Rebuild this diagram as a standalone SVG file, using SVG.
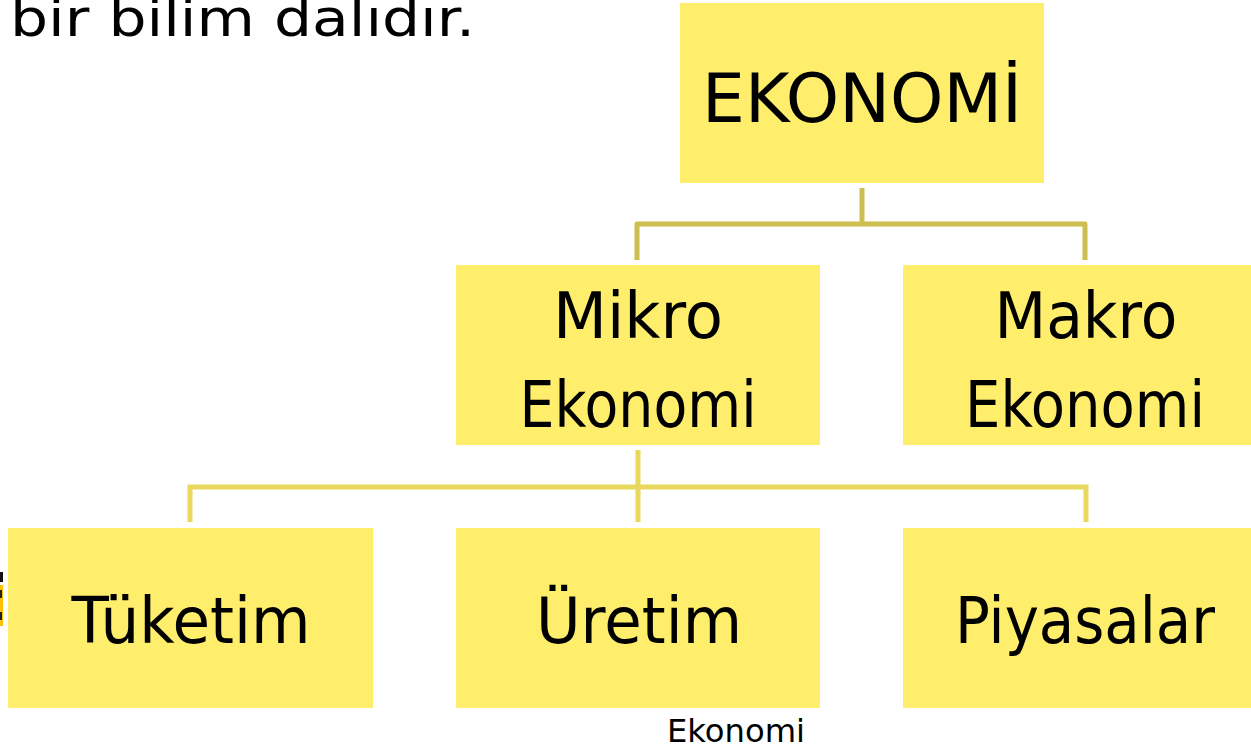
<svg xmlns="http://www.w3.org/2000/svg" width="1251" height="748" viewBox="0 0 1251 748">
  <style>
    .box { fill: #FFEE6B; }
    .lbl { font-family: "DejaVu Sans", "Liberation Sans", sans-serif; fill: #000; text-anchor: middle; }
    .big { font-size: 64px; }
    .top { font-size: 68px; }
    .con1 { fill: none; stroke: #CCBE50; stroke-width: 5; stroke-linejoin: round; stroke-linecap: butt; }
    .con2 { fill: none; stroke: #E8D85C; stroke-width: 5; stroke-linejoin: miter; }
  </style>

  <rect width="1251" height="748" fill="#fff"/>

  <!-- heading fragment, running off the top edge -->
  <text x="10" y="36" font-family="DejaVu Sans, sans-serif" font-size="52" textLength="465" lengthAdjust="spacingAndGlyphs">bir bilim dalıdır.</text>

  <!-- clipped marker at left edge -->
  <g id="edge-mark">
    <rect x="0" y="572" width="3" height="10" fill="#111"/>
    <rect x="0" y="585" width="3" height="41" fill="#FFC000"/>
    <rect x="0" y="590" width="2" height="8" fill="#222"/>
    <rect x="0" y="612" width="2" height="8" fill="#222"/>
  </g>

  <!-- connectors -->
  <g id="connectors">
    <path class="con1" d="M862 188 V224 M637 260 V224 H1085 V260"/>
    <path class="con2" d="M638 450 V522 M190 522 V487 H1086 V522"/>
  </g>

  <g id="ekonomi">
    <rect class="box" x="680" y="3" width="364" height="180"/>
    <text class="lbl top" x="862" y="122" textLength="320" lengthAdjust="spacingAndGlyphs">EKONOMİ</text>
  </g>

  <g id="mikro">
    <rect class="box" x="456" y="265" width="364" height="180"/>
    <text class="lbl big" x="638" y="338" textLength="170" lengthAdjust="spacingAndGlyphs">Mikro</text>
    <text class="lbl big" x="638" y="427" textLength="237" lengthAdjust="spacingAndGlyphs">Ekonomi</text>
  </g>

  <g id="makro">
    <rect class="box" x="903" y="265" width="348" height="180"/>
    <text class="lbl big" x="1086" y="338" textLength="183" lengthAdjust="spacingAndGlyphs">Makro</text>
    <text class="lbl big" x="1085" y="427" textLength="240" lengthAdjust="spacingAndGlyphs">Ekonomi</text>
  </g>

  <g id="tuketim">
    <rect class="box" x="8" y="528" width="365" height="180"/>
    <text class="lbl big" x="191" y="643" textLength="239" lengthAdjust="spacingAndGlyphs">Tüketim</text>
  </g>

  <g id="uretim">
    <rect class="box" x="456" y="528" width="364" height="180"/>
    <text class="lbl big" x="639" y="643" textLength="206" lengthAdjust="spacingAndGlyphs">Üretim</text>
  </g>

  <g id="piyasalar">
    <rect class="box" x="903" y="528" width="348" height="180"/>
    <text class="lbl big" x="1085" y="643" textLength="260" lengthAdjust="spacingAndGlyphs">Piyasalar</text>
  </g>

  <text class="lbl" x="736" y="742" font-size="32" textLength="138" lengthAdjust="spacingAndGlyphs">Ekonomi</text>
</svg>
